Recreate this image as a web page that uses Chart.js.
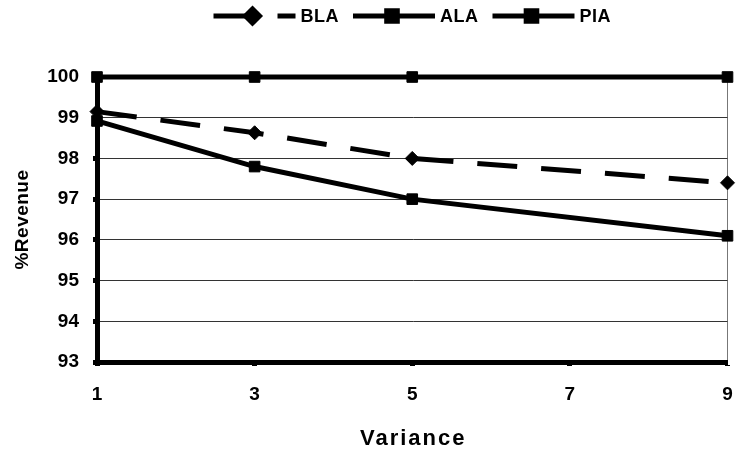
<!DOCTYPE html>
<html>
<head>
<meta charset="utf-8">
<script src="https://cdn.jsdelivr.net/npm/chart.js@4.4.0/dist/chart.umd.min.js"></script>
<style>
html,body{margin:0;padding:0;background:#fff;}
#wrap{width:736px;height:453px;position:relative;}
</style>
</head>
<body>
<div id="wrap"><canvas id="c" width="736" height="453"></canvas></div>
<script>
const xValues = [1, 3, 5, 9];
const xTicks = [1, 3, 5, 7, 9];
const yTicks = [93, 94, 95, 96, 97, 98, 99, 100];
const seriesNames = ['BLA', 'ALA', 'PIA'];
const blaValues = [99.15, 98.63, 98.0, 97.4];
const alaValues = [98.92, 97.8, 97.0, 96.1];
const piaValues = [100, 100, 100, 100];
const xTitle = 'Variance';
const yTitle = '%Revenue';

const FONT = "'Liberation Sans', Arial, sans-serif";

function pts(vals){ return xValues.map((x,i)=>({x:x, y:vals[i]})); }

const decorPlugin = {
  id: 'decor',
  afterDraw(chart){
    const ctx = chart.ctx;
    const ds = chart.data.datasets;
    const ca = chart.chartArea;
    ctx.save();
    // legend
    ctx.font = "bold 18px " + FONT;
    ctx.letterSpacing = '0.5px';
    const sampleW = 82, gap = 5, itemGap = 14;
    const widths = ds.map(d => sampleW + gap + ctx.measureText(d.label).width);
    const total = widths.reduce((a,b)=>a+b,0) + itemGap*(ds.length-1);
    let x = (ca.left + ca.right)/2 - total/2;
    const y = 16;
    ds.forEach((d,i)=>{
      ctx.strokeStyle = '#000';
      ctx.lineWidth = d.borderWidth;
      ctx.setLineDash(d.borderDash || []);
      ctx.beginPath();
      ctx.moveTo(x, y); ctx.lineTo(x+sampleW, y); ctx.stroke();
      ctx.setLineDash([]);
      ctx.fillStyle = '#000';
      Chart.helpers.drawPoint(ctx, {pointStyle: d.pointStyle, radius: d.pointRadius, borderWidth: 1}, x + sampleW/2 - 2, y);
      ctx.fillStyle = '#000';
      ctx.textBaseline = 'middle';
      ctx.textAlign = 'left';
      ctx.fillText(d.label, x + sampleW + gap, y+1);
      x += widths[i] + itemGap;
    });
    // x title
    ctx.font = "bold 22px " + FONT;
    ctx.letterSpacing = '2px';
    ctx.textAlign = 'center';
    ctx.textBaseline = 'alphabetic';
    ctx.fillText(xTitle, (ca.left + ca.right)/2 + 1, 445);
    // y title
    ctx.font = "bold 19px " + FONT;
    ctx.letterSpacing = '0.5px';
    ctx.translate(28, (ca.top + ca.bottom)/2);
    ctx.rotate(-Math.PI/2);
    ctx.fillText(yTitle, 0, 0);
    ctx.restore();
  }
};

const ctx = document.getElementById('c').getContext('2d');
new Chart(ctx, {
  type: 'line',
  data: {
    datasets: [
      {label: seriesNames[0], data: pts(blaValues), borderColor:'#000', backgroundColor:'#000', borderWidth:5, borderDash:[40,24], pointStyle:'rectRot', pointRadius:7, pointBorderWidth:1, tension:0},
      {label: seriesNames[1], data: pts(alaValues), borderColor:'#000', backgroundColor:'#000', borderWidth:5, pointStyle:'rect', pointRadius:7.5, pointBorderWidth:1, tension:0},
      {label: seriesNames[2], data: pts(piaValues), borderColor:'#000', backgroundColor:'#000', borderWidth:5, pointStyle:'rect', pointRadius:7.5, pointBorderWidth:1, tension:0}
    ]
  },
  options: {
    responsive: false,
    animation: false,
    clip: false,
    layout: {padding: {top: 77, right: 0, left: 0, bottom: 0}},
    plugins: {legend: {display:false}, tooltip:{enabled:false}},
    scales: {
      x: {
        type: 'linear', min: 1, max: 9,
        afterBuildTicks: s => { s.ticks = xTicks.map(v=>({value:v})); },
        afterFit: s => { s.height = 91; s.paddingRight = 6; s.paddingLeft = 0; },
        ticks: {color:'#000', font:{family:FONT, size:19, weight:'bold'}, padding: 17, maxRotation:0},
        grid: {
          drawOnChartArea: true,
          color: c => (c.tick && c.tick.value === 9) ? '#777' : 'rgba(0,0,0,0)',
          lineWidth: 1,
          tickColor: '#000', tickLength: 4, tickWidth: 5
        },
        border: {display:true, color:'#000', width:5}
      },
      y: {
        min: 93, max: 100,
        afterBuildTicks: s => { s.ticks = yTicks.map(v=>({value:v})); },
        afterFit: s => { s.width = 97; },
        ticks: {color:'#000', font:{family:FONT, size:19, weight:'bold'}, padding: 14},
        grid: {color:'#333', lineWidth:1, tickColor:'#000', tickLength:4, tickWidth:5},
        border: {display:true, color:'#000', width:5}
      }
    }
  },
  plugins: [decorPlugin]
});
</script>
</body>
</html>
